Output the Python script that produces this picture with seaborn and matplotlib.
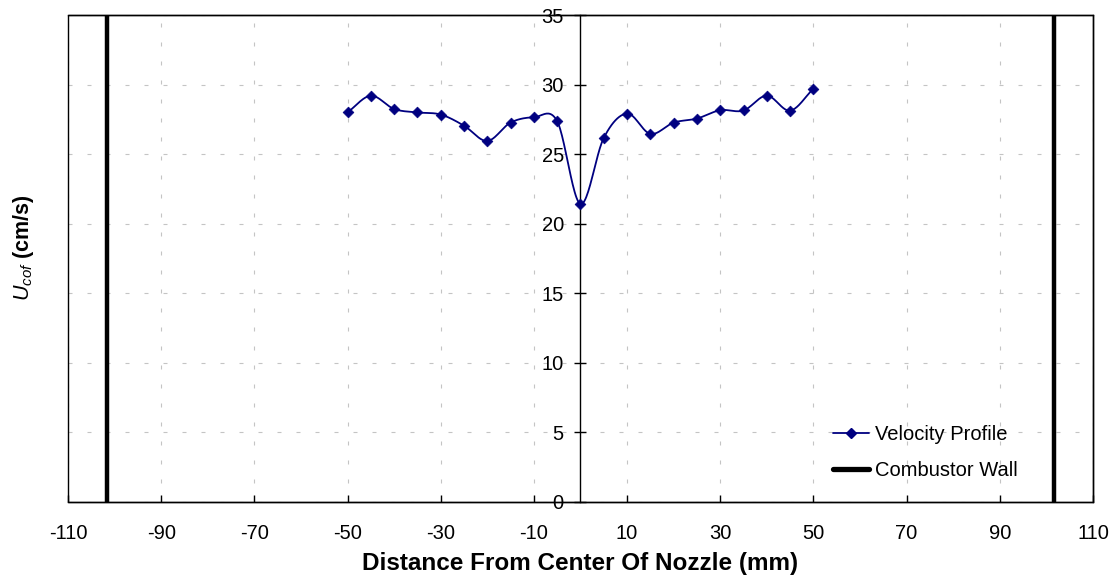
import numpy as np
import pandas as pd
import matplotlib
matplotlib.use("Agg")
import matplotlib.pyplot as plt
from matplotlib.lines import Line2D
from matplotlib.patches import Rectangle
import seaborn as sns

# ---- data ----
distance_mm = [-50, -45, -40, -35, -30, -25, -20, -15, -10, -5, 0,
               5, 10, 15, 20, 25, 30, 35, 40, 45, 50]
velocity_cms = [28.0, 29.2, 28.25, 28.0, 27.85, 27.05, 25.95, 27.27, 27.65, 27.37, 21.42,
                26.17, 27.92, 26.46, 27.27, 27.56, 28.16, 28.14, 29.21, 28.13, 29.71]
wall_positions = [-101.6, 101.6]
x_ticks = [-110, -90, -70, -50, -30, -10, 10, 30, 50, 70, 90, 110]
y_ticks = [0, 5, 10, 15, 20, 25, 30, 35]

sns.set_theme(style="white")
plt.rcParams['font.family'] = ['Liberation Sans', 'DejaVu Sans']
plt.rcParams['mathtext.fontset'] = 'custom'
plt.rcParams['mathtext.it'] = 'Liberation Sans:italic'
plt.rcParams['mathtext.rm'] = 'Liberation Sans'
plt.rcParams['text.color'] = 'black'
plt.rcParams['axes.labelcolor'] = 'black'
plt.rcParams['xtick.color'] = 'black'
plt.rcParams['ytick.color'] = 'black'

navy = "#000080"
grid_color = "#c4c4c4"

def catmull_rom(x, y, n=24):
    x = np.asarray(x, float); y = np.asarray(y, float)
    px = np.concatenate([[2*x[0]-x[1]], x, [2*x[-1]-x[-2]]])
    py = np.concatenate([[2*y[0]-y[1]], y, [2*y[-1]-y[-2]]])
    xs, ys = [], []
    t = np.linspace(0, 1, n, endpoint=False)
    for i in range(1, len(px)-2):
        for P, out in ((px, xs), (py, ys)):
            p0, p1, p2, p3 = P[i-1], P[i], P[i+1], P[i+2]
            out.extend(0.5*((2*p1) + (-p0+p2)*t + (2*p0-5*p1+4*p2-p3)*t**2
                            + (-p0+3*p1-3*p2+p3)*t**3))
    xs.append(x[-1]); ys.append(y[-1])
    return np.array(xs), np.array(ys)

sx, sy = catmull_rom(distance_mm, velocity_cms)
smooth = pd.DataFrame({"x": sx, "y": sy})
pts = pd.DataFrame({"x": distance_mm, "y": velocity_cms})

fig = plt.figure(figsize=(11.18, 5.79), dpi=100)
ax = fig.add_axes([0.0608, 0.133, 0.9168, 0.841])

ax.set_xlim(-110, 110)
ax.set_ylim(0, 35)

# grid
dash = (0, (3.6, 13.5))
for xv in x_ticks:
    ax.axvline(xv, color=grid_color, lw=0.8, ls=dash, zorder=0)
for yv in y_ticks:
    ax.axhline(yv, color=grid_color, lw=0.8, ls=dash, zorder=0)

sns.lineplot(data=smooth, x="x", y="y", ax=ax, color=navy, lw=1.3, sort=False,
             estimator=None, zorder=3)
sns.scatterplot(data=pts, x="x", y="y", ax=ax, color=navy, marker="D", s=30,
                edgecolor=navy, linewidth=0.5, zorder=4)

for w in wall_positions:
    ax.axvline(w, color="black", lw=3.2, zorder=5)

# frame
for s in ["top", "right", "bottom"]:
    ax.spines[s].set_visible(True)
    ax.spines[s].set_color("black")
    ax.spines[s].set_linewidth(1.0)
ax.spines["left"].set_position(("data", 0))
ax.spines["left"].set_color("black")
ax.spines["left"].set_linewidth(1.0)
ax.add_patch(Rectangle((0, 0), 1, 1, transform=ax.transAxes, fill=False,
                       lw=1.0, edgecolor="black", zorder=6, clip_on=False))

ax.set_xticks(x_ticks)
ax.set_xticklabels([str(v) for v in x_ticks])
ax.set_yticks(y_ticks)
ax.set_yticklabels([str(v) for v in y_ticks])
ax.tick_params(axis="x", direction="in", length=5, width=1,
               labelsize=14.5, pad=16, bottom=True)
ax.tick_params(axis="y", direction="inout", length=8, width=1,
               labelsize=14.5, pad=8, left=True)

ax.set_xlabel("Distance From Center Of Nozzle (mm)", fontsize=17.5, fontweight="bold",
              labelpad=6)
ax.set_ylabel("")
fig.text(0.021, 0.572, r"$U_{cof}$ (cm/s)", rotation=90, fontsize=15.5,
         fontweight="bold", va="center", ha="center")

handles = [Line2D([0], [0], color=navy, lw=1.3, marker="D", markersize=5),
           Line2D([0], [0], color="black", lw=3.8)]
ax.legend(handles, ["Velocity Profile", "Combustor Wall"], loc="upper left",
          bbox_to_anchor=(0.746, 0.158), frameon=False, fontsize=14.5,
          handlelength=1.8, handletextpad=0.3, labelspacing=0.85,
          borderpad=0, borderaxespad=0)

fig.savefig("out.png", dpi=100)
